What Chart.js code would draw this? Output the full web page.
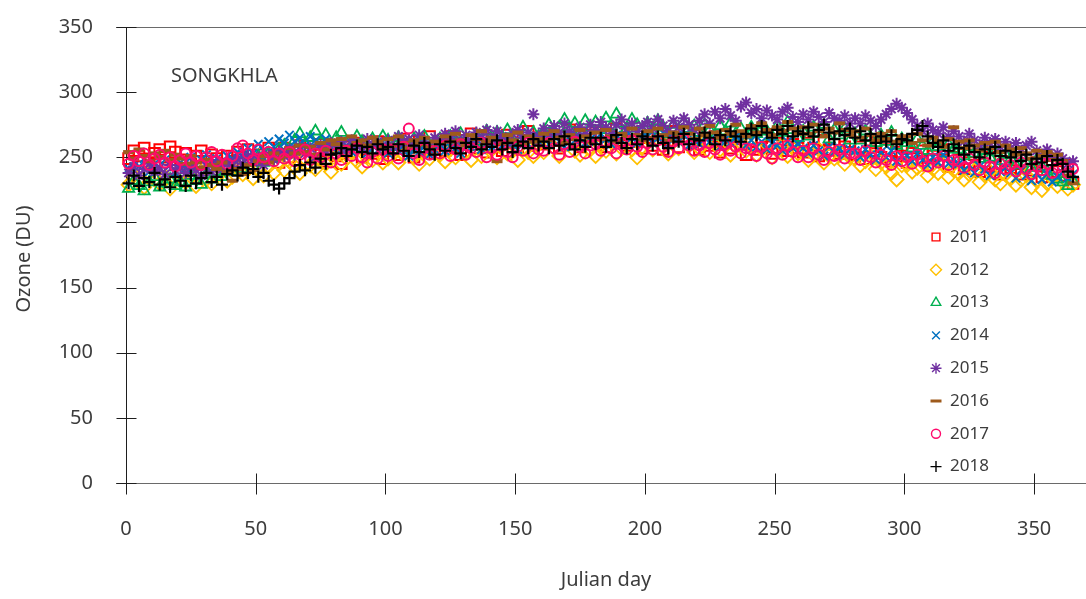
<!DOCTYPE html>
<html>
<head>
<meta charset="utf-8">
<title>SONGKHLA ozone</title>
<script src="https://cdn.jsdelivr.net/npm/chart.js@4.4.1/dist/chart.umd.min.js"></script>
<style>
  html, body { margin: 0; padding: 0; background: #fff; }
  #wrap { width: 1086px; height: 599px; }
</style>
</head>
<body>
<div id="wrap"><canvas id="ozoneChart" width="1086" height="599"></canvas></div>
<script>
// every second Julian day, 1..365
var days = Array.from({ length: 183 }, function (_, i) { return 1 + 2 * i; });
var xTicks = [0, 50, 100, 150, 200, 250, 300, 350];
var yTicks = [0, 50, 100, 150, 200, 250, 300, 350];
var years = ['2011', '2012', '2013', '2014', '2015', '2016', '2017', '2018'];

var ozone2011 = [
    249, 255, 251, 257, 246, 253, 256, 250, 258, 254,
    248, 253, 245, 251, 255, 247, 252, 249, 243, 251,
    247, 254, 250, 256, 244, 252, 249, 257, 251, 246,
    257, 250, 254, 259, 249, 255, 252, 260, 247, 256,
    251, 245, 258, 254, 261, 250, 256, 253, 262, 249,
    255, 261, 252, 264, 257, 250, 262, 256, 266, 253,
    261, 255, 266, 258, 252, 263, 268, 257, 261, 254,
    264, 258, 255, 267, 261, 256, 263, 270, 259, 265,
    260, 268, 263, 257, 266, 271, 262, 258, 267, 264,
    269, 261, 258, 266, 272, 263, 259, 268, 262, 257,
    265, 259, 268, 256, 263, 270, 258, 264, 261, 267,
    256, 263, 259, 266, 254, 261, 257, 264, 260, 252,
    262, 256, 265, 258, 253, 261, 267, 255, 260, 257,
    254, 261, 257, 251, 263, 256, 260, 253, 258, 262,
    252, 258, 249, 255, 261, 250, 256, 247, 254, 251,
    246, 253, 249, 255, 244, 251, 248, 256, 243, 250,
    248, 241, 246, 252, 239, 245, 250, 243, 237, 247,
    242, 248, 237, 244, 240, 246, 235, 243, 248, 239,
    236, 244, 230
];
var ozone2012 = [
    229, 236, 232, 227, 238, 233, 230, 235, 226, 234,
    237, 231, 235, 228, 239, 233, 230, 236, 241, 232,
    235, 241, 237, 244, 234, 240, 236, 243, 238, 245,
    240, 247, 243, 238, 249, 244, 241, 250, 245, 239,
    251, 245, 249, 254, 247, 243, 252, 248, 255, 246,
    249, 255, 246, 252, 258, 250, 245, 254, 249, 257,
    252, 247, 256, 250, 259, 253, 248, 255, 251, 258,
    256, 250, 259, 253, 262, 248, 257, 254, 251, 260,
    254, 261, 257, 251, 259, 264, 255, 252, 260, 256,
    251, 259, 255, 262, 253, 257, 264, 256, 250, 258,
    261, 256, 264, 258, 253, 262, 257, 265, 259, 254,
    257, 262, 254, 260, 256, 263, 252, 258, 261, 255,
    258, 252, 256, 260, 250, 255, 259, 251, 257, 253,
    254, 248, 252, 256, 246, 251, 249, 254, 245, 250,
    249, 244, 247, 251, 241, 246, 243, 238, 233, 244,
    244, 239, 242, 246, 236, 241, 238, 244, 235, 240,
    238, 233, 237, 240, 231, 236, 239, 233, 230, 237,
    234, 229, 233, 236, 227, 232, 225, 230, 234, 228,
    231, 226, 229
];
var ozone2013 = [
    226, 232, 228, 224, 231, 235, 227, 230, 233, 228,
    231, 227, 236, 232, 229, 237, 233, 239, 235, 241,
    239, 245, 241, 248, 243, 251, 246, 253, 249, 256,
    259, 254, 263, 268, 260, 265, 270, 262, 267, 259,
    265, 269, 261, 258, 266, 262, 257, 264, 260, 266,
    263, 258, 265, 261, 256, 264, 260, 266, 257, 262,
    264, 259, 266, 261, 268, 263, 258, 267, 262, 270,
    263, 269, 265, 271, 260, 267, 273, 264, 269, 266,
    270, 275, 268, 273, 279, 271, 276, 269, 278, 273,
    277, 271, 280, 274, 283, 276, 272, 279, 275, 270,
    276, 271, 278, 273, 268, 275, 270, 277, 272, 274,
    269, 275, 271, 266, 274, 270, 276, 268, 272, 267,
    273, 268, 275, 270, 266, 274, 269, 277, 271, 265,
    270, 266, 273, 268, 275, 264, 271, 267, 272, 263,
    268, 263, 270, 265, 261, 267, 262, 269, 259, 264,
    261, 257, 264, 259, 255, 262, 258, 253, 260, 256,
    256, 251, 258, 253, 249, 255, 250, 254, 247, 252,
    249, 244, 251, 246, 242, 248, 243, 239, 236, 233,
    231, 228, 232
];
var ozone2014 = [
    241, 247, 243, 249, 239, 245, 242, 248, 244, 238,
    246, 242, 250, 244, 248, 252, 245, 249, 243, 251,
    249, 254, 251, 257, 253, 260, 255, 262, 258, 264,
    261, 267, 262, 265, 259, 266, 263, 260, 264, 258,
    261, 256, 259, 254, 262, 257, 253, 260, 255, 259,
    253, 258, 255, 260, 251, 257, 254, 259, 252, 256,
    260, 255, 262, 257, 253, 261, 258, 264, 256, 260,
    258, 263, 259, 265, 261, 256, 264, 260, 266, 262,
    265, 260, 267, 262, 258, 266, 263, 269, 261, 264,
    262, 268, 264, 260, 267, 263, 270, 265, 261, 266,
    266, 261, 265, 269, 260, 264, 262, 267, 259, 263,
    260, 265, 262, 267, 258, 264, 261, 266, 263, 259,
    263, 258, 262, 256, 261, 259, 255, 262, 257, 260,
    257, 253, 259, 255, 251, 258, 254, 257, 252, 256,
    255, 250, 256, 252, 248, 254, 250, 255, 247, 251,
    251, 247, 253, 248, 244, 250, 246, 252, 245, 248,
    245, 240, 244, 238, 243, 241, 236, 244, 239, 242,
    238, 234, 240, 236, 232, 238, 233, 237, 231, 235,
    238, 234, 237
];
var ozone2015 = [
    238, 243, 236, 241, 245, 239, 242, 237, 244, 240,
    242, 238, 244, 240, 236, 243, 239, 245, 241, 246,
    243, 249, 245, 251, 246, 250, 244, 252, 248, 254,
    251, 256, 252, 258, 253, 257, 250, 259, 255, 261,
    258, 262, 256, 263, 260, 257, 264, 259, 262, 257,
    263, 258, 266, 261, 264, 260, 267, 262, 258, 265,
    262, 268, 264, 270, 263, 267, 261, 269, 265, 271,
    264, 270, 266, 262, 268, 271, 265, 269, 283, 266,
    272, 267, 274, 269, 276, 270, 266, 273, 268, 275,
    271, 277, 273, 268, 275, 279, 272, 276, 270, 274,
    277, 272, 279, 274, 270, 278, 273, 280, 275, 271,
    278, 283, 276, 285, 280, 287, 282, 278, 289, 292,
    284, 287, 280, 286, 282, 279, 285, 288, 281, 277,
    283, 279, 285, 281, 277, 284, 280, 278, 282, 276,
    280, 276, 282, 278, 274, 279, 283, 287, 291, 288,
    284, 279, 274, 270, 276, 271, 268, 273, 266, 270,
    266, 262, 268, 263, 259, 265, 261, 264, 258, 262,
    257, 261, 254, 259, 262, 255, 251, 256, 250, 253,
    249, 245, 247
];
var ozone2016 = [
    254, 249, 256, 251, 247, 253, 250, 255, 248, 252,
    249, 245, 251, 246, 242, 248, 244, 241, 246, 239,
    232, 241, 237, 244, 240, 247, 251, 246, 253, 249,
    251, 257, 253, 259, 254, 258, 252, 261, 256, 263,
    260, 264, 258, 266, 261, 263, 259, 265, 262, 258,
    264, 259, 266, 261, 257, 263, 260, 265, 258, 262,
    261, 266, 262, 268, 263, 259, 267, 264, 270, 262,
    265, 247, 261, 267, 263, 269, 260, 266, 262, 264,
    268, 263, 270, 265, 261, 267, 264, 271, 266, 262,
    269, 264, 271, 266, 262, 268, 265, 272, 267, 263,
    270, 265, 272, 267, 263, 269, 266, 273, 268, 264,
    272, 267, 274, 269, 265, 271, 268, 275, 270, 266,
    274, 269, 276, 271, 267, 273, 270, 277, 272, 268,
    273, 268, 275, 270, 266, 272, 269, 276, 271, 267,
    270, 265, 272, 267, 263, 268, 264, 270, 262, 266,
    266, 261, 268, 263, 259, 265, 262, 258, 264, 273,
    262, 257, 263, 259, 255, 261, 257, 262, 254, 259,
    256, 252, 257, 253, 249, 255, 251, 254, 248, 252,
    247, 236, 230
];
var ozone2017 = [
    245, 251, 247, 253, 244, 249, 252, 246, 250, 243,
    248, 253, 246, 251, 244, 250, 254, 247, 252, 245,
    251, 257, 259, 253, 248, 256, 250, 254, 247, 253,
    249, 254, 247, 252, 256, 248, 253, 250, 255, 246,
    253, 248, 255, 251, 257, 250, 246, 254, 249, 256,
    251, 256, 249, 258, 272, 253, 248, 257, 252, 255,
    253, 259, 251, 256, 260, 252, 257, 254, 261, 250,
    257, 252, 259, 254, 250, 258, 255, 261, 253, 256,
    255, 261, 257, 252, 260, 254, 262, 258, 253, 259,
    260, 255, 262, 257, 253, 261, 256, 263, 258, 254,
    261, 256, 263, 258, 254, 262, 257, 264, 259, 255,
    259, 254, 261, 256, 252, 260, 255, 258, 253, 257,
    256, 251, 258, 253, 249, 257, 252, 259, 254, 250,
    255, 250, 257, 252, 248, 254, 251, 256, 249, 253,
    253, 248, 255, 250, 246, 252, 248, 244, 251, 247,
    250, 245, 252, 247, 243, 249, 246, 251, 244, 248,
    247, 242, 249, 244, 240, 246, 243, 238, 245, 241,
    244, 239, 246, 241, 237, 243, 240, 245, 238, 242,
    243, 238, 241
];
var ozone2018 = [
    230, 236, 228, 234, 231, 238, 229, 233, 227, 235,
    232, 228, 236, 230, 234, 238, 231, 235, 229, 237,
    240, 236, 242, 238, 241, 235, 238, 232, 229, 226,
    230, 234, 239, 244, 240, 246, 242, 249, 245, 252,
    253, 257, 251, 256, 259, 254, 258, 253, 260, 256,
    258, 253, 260, 255, 251, 259, 254, 261, 256, 252,
    260, 255, 262, 257, 253, 261, 258, 264, 256, 260,
    258, 263, 256, 261, 254, 259, 262, 257, 264, 259,
    262, 257, 264, 259, 266, 260, 256, 263, 258, 265,
    260, 265, 258, 263, 267, 261, 257, 264, 260, 266,
    264, 259, 266, 261, 257, 265, 262, 268, 260, 264,
    263, 269, 265, 260, 267, 263, 270, 266, 262, 268,
    272, 267, 274, 269, 265, 271, 268, 274, 266, 270,
    268, 273, 266, 271, 275, 269, 264, 270, 267, 272,
    265, 270, 263, 268, 261, 266, 262, 267, 260, 264,
    263, 268, 271, 274, 266, 261, 258, 263, 255, 260,
    257, 252, 259, 254, 250, 256, 253, 258, 251, 255,
    250, 254, 247, 252, 245, 249, 246, 251, 244, 248,
    245, 239, 235
];

var seriesValues = [ozone2011, ozone2012, ozone2013, ozone2014, ozone2015, ozone2016, ozone2017, ozone2018];
var colors = ['#ff0000', '#ffc000', '#00b050', '#0070c0', '#7030a0', '#9e5a1c', '#ff0a6c', '#000000'];
var markers = ['rect', 'rectRot', 'triangle', 'crossRot', 'star', 'line', 'circle', 'cross'];
var radii = [7.5, 7, 6.5, 6, 6, 5.5, 5, 6];
var widths = [2, 1.8, 1.8, 2, 2, 4, 2, 2.2];

var textColor = '#3c3c3c';
var fontFamily = "'Noto Sans', 'DejaVu Sans', sans-serif";

function toPoints(values) {
    return values.map(function (v, i) { return { x: days[i], y: v }; });
}

var datasets = years.map(function (yr, i) {
    return {
        label: yr,
        data: toPoints(seriesValues[i]),
        pointStyle: markers[i],
        pointRadius: radii[i],
        pointHoverRadius: radii[i],
        pointBorderWidth: widths[i],
        borderColor: colors[i],
        backgroundColor: 'rgba(0,0,0,0)',
        pointBackgroundColor: 'rgba(0,0,0,0)',
        showLine: false,
        clip: false,
        order: years.length - 1 - i
    };
});

// axes, tick marks, titles, station name and legend
var decorPlugin = {
    id: 'decor',
    beforeDatasetsDraw: function (chart) {
        var ctx = chart.ctx;
        var xs = chart.scales.x, ys = chart.scales.y;
        var area = chart.chartArea;
        ctx.save();
        ctx.lineWidth = 1;
        // horizontal lines at 0 and 350
        ctx.strokeStyle = '#6a6a6a';
        [0, 350].forEach(function (v) {
            var py = Math.round(ys.getPixelForValue(v)) + 0.5;
            ctx.beginPath();
            ctx.moveTo(area.left - 10, py);
            ctx.lineTo(chart.width, py);
            ctx.stroke();
        });
        // vertical axis
        ctx.strokeStyle = '#1e1e1e';
        var px0 = Math.round(xs.getPixelForValue(0)) + 0.5;
        ctx.beginPath();
        ctx.moveTo(px0, ys.getPixelForValue(350));
        ctx.lineTo(px0, ys.getPixelForValue(0));
        ctx.stroke();
        // y tick marks crossing the axis
        yTicks.forEach(function (v) {
            var py = Math.round(ys.getPixelForValue(v)) + 0.5;
            ctx.beginPath();
            ctx.moveTo(px0 - 10, py);
            ctx.lineTo(px0 + 10, py);
            ctx.stroke();
        });
        // x tick marks crossing the axis
        var py0 = Math.round(ys.getPixelForValue(0)) + 0.5;
        xTicks.forEach(function (v) {
            var px = Math.round(xs.getPixelForValue(v)) + 0.5;
            ctx.beginPath();
            ctx.moveTo(px, py0 - 10);
            ctx.lineTo(px, py0 + 11);
            ctx.stroke();
        });

        ctx.fillStyle = textColor;
        ctx.font = '20px ' + fontFamily;
        // station name
        ctx.textAlign = 'left';
        ctx.textBaseline = 'middle';
        ctx.fillText('SONGKHLA', 171, 76);
        // axis titles
        ctx.textAlign = 'center';
        ctx.fillText('Julian day', (area.left + area.right) / 2, 580);
        ctx.save();
        ctx.translate(24, (area.top + area.bottom) / 2 + 4);
        ctx.rotate(-Math.PI / 2);
        ctx.fillText('Ozone (DU)', 0, 0);
        ctx.restore();

        // legend
        ctx.font = '17px ' + fontFamily;
        ctx.textAlign = 'left';
        years.forEach(function (yr, i) {
            var ly = 237 + i * 32.8;
            ctx.save();
            ctx.strokeStyle = colors[i];
            ctx.fillStyle = 'rgba(0,0,0,0)';
            ctx.lineWidth = i === 5 ? 3 : 1.4;
            Chart.helpers.drawPoint(ctx, {
                pointStyle: markers[i],
                radius: i === 6 ? 4.5 : 5.5,
                rotation: 0,
                borderWidth: ctx.lineWidth
            }, 936, ly);
            ctx.restore();
            ctx.fillStyle = textColor;
            ctx.fillText(yr, 950, ly);
        });
        ctx.restore();
    }
};

var ctx = document.getElementById('ozoneChart').getContext('2d');
var ozoneChart = new Chart(ctx, {
    type: 'scatter',
    data: { datasets: datasets },
    options: {
        responsive: false,
        animation: false,
        events: [],
        layout: { autoPadding: false, padding: { top: 27, right: 0, bottom: 0, left: 0 } },
        plugins: {
            legend: { display: false },
            tooltip: { enabled: false }
        },
        scales: {
            x: {
                type: 'linear',
                min: 0,
                max: 370,
                afterFit: function (scale) {
                    scale.height = 116;
                    scale.paddingLeft = 0;
                    scale.paddingRight = 0;
                },
                afterBuildTicks: function (scale) {
                    scale.ticks = xTicks.map(function (v) { return { value: v }; });
                },
                grid: { display: false, drawTicks: false },
                border: { display: false },
                ticks: {
                    padding: 34,
                    color: textColor,
                    font: { family: fontFamily, size: 20 },
                    maxRotation: 0
                }
            },
            y: {
                type: 'linear',
                min: 0,
                max: 350,
                afterFit: function (scale) {
                    scale.width = 126;
                    // tick padding would otherwise push the plot top down
                    scale.paddingTop = 0;
                    scale.paddingBottom = 0;
                },
                afterBuildTicks: function (scale) {
                    scale.ticks = yTicks.map(function (v) { return { value: v }; });
                },
                grid: { display: false, drawTicks: false },
                border: { display: false },
                ticks: {
                    padding: 33,
                    color: textColor,
                    font: { family: fontFamily, size: 20 }
                }
            }
        }
    },
    plugins: [decorPlugin]
});
</script>
</body>
</html>
